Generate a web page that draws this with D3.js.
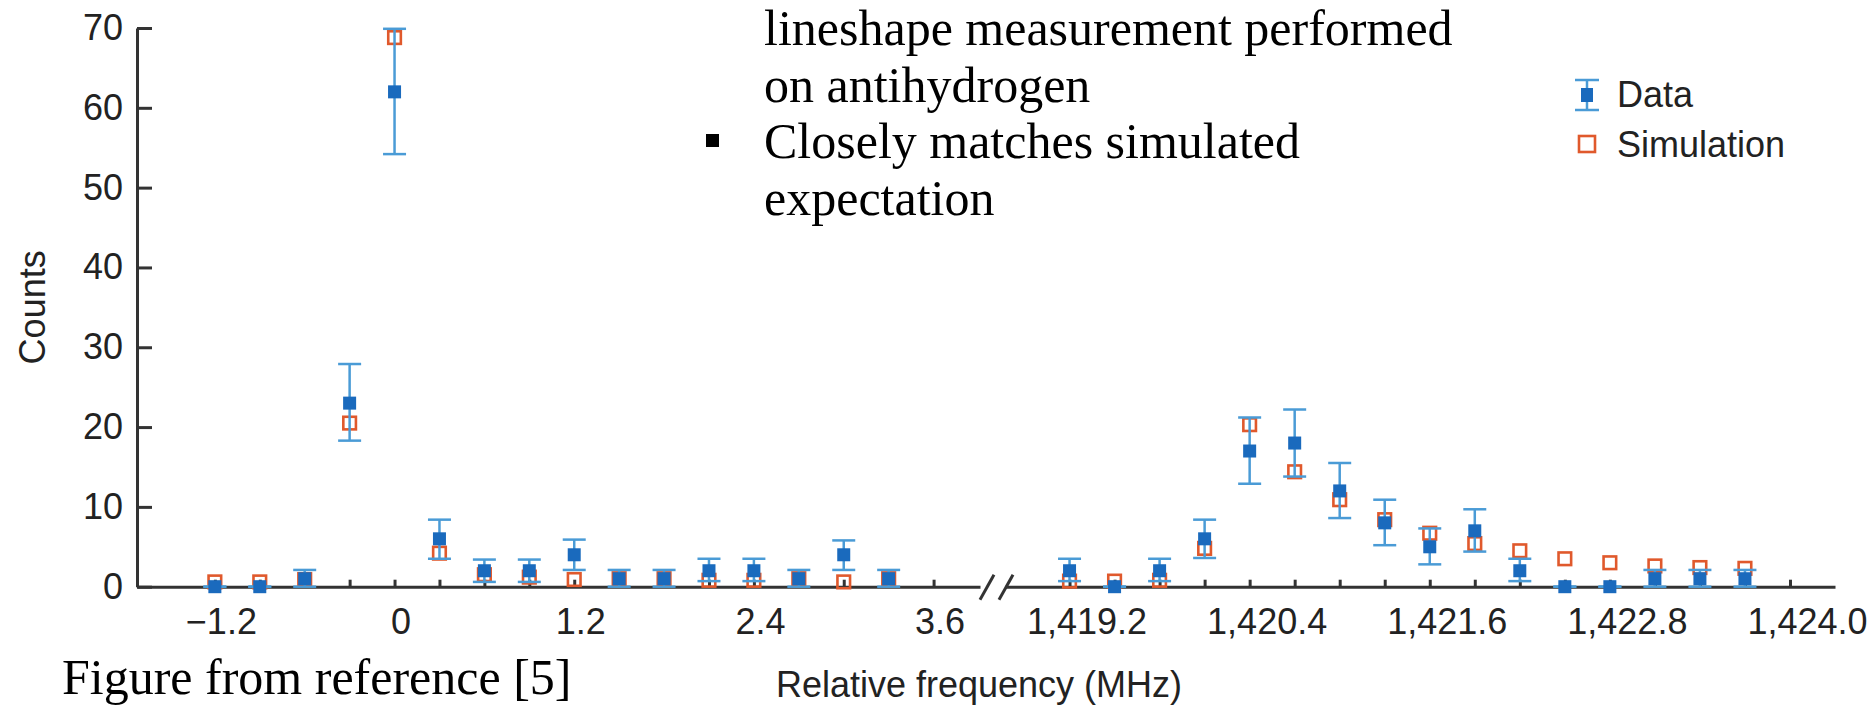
<!DOCTYPE html>
<html>
<head>
<meta charset="utf-8">
<script src="https://cdn.jsdelivr.net/npm/d3@7/dist/d3.min.js"></script>
<style>
    body { margin: 0; background: #fff; }
    svg { display: block; }
    .axis text { font-family: "Liberation Sans", Arial, sans-serif; font-size: 36px; fill: #222; }
    .axis path, .axis line { stroke: #333; }
    .slide { font-family: "Liberation Serif", "Times New Roman", serif; font-size: 50px; fill: #000; }
</style>
</head>
<body>
<div id="chart"></div>
<script>
// Low-frequency segment (MHz)
var leftFreq  = [-1.2, -0.9, -0.6, -0.3, 0, 0.3, 0.6, 0.9, 1.2, 1.5, 1.8, 2.1, 2.4, 2.7, 3.0, 3.3];
var leftData  = [0, 0, 1, 23, 62, 6, 2, 2, 4, 1, 1, 2, 2, 1, 4, 1];
var leftLow   = [0, 0, 0, 18.3, 54.2, 3.5, 0.6, 0.6, 2.1, 0, 0, 0.7, 0.7, 0, 2.1, 0];
var leftHigh  = [0, 0, 2.1, 27.9, 69.9, 8.4, 3.4, 3.4, 5.9, 2.1, 2.1, 3.5, 3.5, 2.1, 5.8, 2.1];
var leftSim   = [0.6, 0.6, 0.9, 20.5, 68.8, 4.2, 1.5, 1.2, 0.9, 1.0, 1.0, 0.8, 0.8, 1.0, 0.6, 1.0];

// High-frequency segment (MHz)
var rightFreq = [1419.2, 1419.5, 1419.8, 1420.1, 1420.4, 1420.7, 1421.0, 1421.3, 1421.6, 1421.9, 1422.2, 1422.5, 1422.8, 1423.1, 1423.4, 1423.7];
var rightData = [2, 0, 2, 6, 17, 18, 12, 8, 5, 7, 2, 0, 0, 1, 1, 1];
var rightLow  = [0.7, 0, 0.7, 3.6, 12.9, 13.8, 8.6, 5.2, 2.8, 4.4, 0.7, 0, 0, 0, 0, 0];
var rightHigh = [3.5, 0, 3.5, 8.4, 21.2, 22.2, 15.5, 10.9, 7.3, 9.7, 3.5, 0, 0, 2.1, 2.1, 2.1];
var rightSim  = [0.7, 0.7, 0.8, 4.8, 20.3, 14.4, 10.9, 8.4, 6.7, 5.4, 4.5, 3.5, 3.0, 2.6, 2.4, 2.3];

// Ticks and labels
var yTicks = [0, 10, 20, 30, 40, 50, 60, 70];
var leftTicks = [-1.2, -0.9, -0.6, -0.3, 0, 0.3, 0.6, 0.9, 1.2, 1.5, 1.8, 2.1, 2.4, 2.7, 3.0, 3.3, 3.6];
var leftLabels = [-1.2, 0, 1.2, 2.4, 3.6];
var rightTicks = [1419.2, 1419.5, 1419.8, 1420.1, 1420.4, 1420.7, 1421.0, 1421.3, 1421.6, 1421.9, 1422.2, 1422.5, 1422.8, 1423.1, 1423.4, 1423.7, 1424.0];
var rightLabels = [1419.2, 1420.4, 1421.6, 1422.8, 1424.0];

var bulletLines = ["lineshape measurement performed", "on antihydrogen", "Closely matches simulated", "expectation"];

var blue = "#1a6abd", barBlue = "#4a9bd6", orange = "#e0592c";

var width = 1876, height = 707;

var svg = d3.select("#chart").append("svg")
    .attr("width", width)
    .attr("height", height);

// Scales
var yScale = d3.scaleLinear().domain([0, 70]).range([586.7, 28]);
var xLeft = d3.scaleLinear().domain([-1.72, 3.91]).range([137, 980]);
var xRight = d3.scaleLinear().domain([1418.77, 1424.3]).range([1005, 1835]);

function fmt(d) { return d === 0 ? "0" : d3.format(",.1f")(d); }

// Axes
var yAxis = d3.axisLeft(yScale).tickValues(yTicks).tickSizeInner(-15).tickSizeOuter(0).tickPadding(14);
svg.append("g")
    .attr("class", "axis")
    .attr("transform", "translate(" + xLeft.range()[0] + ",0)")
    .call(yAxis)
    .call(function (g) { g.selectAll("path, line").attr("stroke-width", 3); });

function bottomAxis(scale, ticks, labels, dx) {
    var ax = d3.axisBottom(scale).tickValues(ticks)
        .tickSizeInner(-7).tickSizeOuter(0).tickPadding(22)
        .tickFormat(function (d) { return labels.indexOf(d) >= 0 ? fmt(d) : ""; });
    var g = svg.append("g")
        .attr("class", "axis")
        .attr("transform", "translate(0," + yScale(0) + ")")
        .call(ax);
    g.selectAll("path, line").attr("stroke-width", 3);
    g.selectAll("text").attr("dx", dx);
}
bottomAxis(xLeft, leftTicks, leftLabels, 6);
bottomAxis(xRight, rightTicks, rightLabels, 17);

// Axis break marks
var bx = xLeft.range()[1], by = yScale(0);
[0, 19].forEach(function (off) {
    svg.append("line")
        .attr("x1", bx + off).attr("y1", by + 13)
        .attr("x2", bx + off + 14).attr("y2", by - 12)
        .attr("stroke", "#333").attr("stroke-width", 3);
});

// Axis titles
svg.append("text")
    .attr("transform", "translate(45," + yScale(35) + ") rotate(-90)")
    .attr("text-anchor", "middle")
    .style("font-family", "'Liberation Sans', Arial, sans-serif")
    .style("font-size", "36px").style("fill", "#222")
    .text("Counts");

svg.append("text")
    .attr("x", 979).attr("y", 697)
    .attr("text-anchor", "middle")
    .style("font-family", "'Liberation Sans', Arial, sans-serif")
    .style("font-size", "36px").style("fill", "#222")
    .text("Relative frequency (MHz)");

// Points
function segment(scale, freq, data, low, high, sim) {
    var pts = freq.map(function (f, i) {
        return { f: f, v: data[i], lo: low[i], hi: high[i], s: sim[i] };
    });
    var g = svg.append("g");

    g.selectAll(".sim").data(pts).enter().append("rect")
        .attr("class", "sim")
        .attr("x", function (d) { return scale(d.f) - 6.3; })
        .attr("y", function (d) { return yScale(d.s) - 6.3; })
        .attr("width", 12.6).attr("height", 12.6)
        .attr("fill", "none").attr("stroke", orange).attr("stroke-width", 2.6);

    g.selectAll(".bar").data(pts).enter().append("line")
        .attr("class", "bar")
        .attr("x1", function (d) { return scale(d.f); })
        .attr("x2", function (d) { return scale(d.f); })
        .attr("y1", function (d) { return yScale(d.lo); })
        .attr("y2", function (d) { return yScale(d.hi); })
        .attr("stroke", barBlue).attr("stroke-width", 2.5);

    ["lo", "hi"].forEach(function (k) {
        g.selectAll(".cap-" + k).data(pts).enter().append("line")
            .attr("class", "cap-" + k)
            .attr("x1", function (d) { return scale(d.f) - 11.5; })
            .attr("x2", function (d) { return scale(d.f) + 11.5; })
            .attr("y1", function (d) { return yScale(d[k]); })
            .attr("y2", function (d) { return yScale(d[k]); })
            .attr("stroke", barBlue).attr("stroke-width", 2.5);
    });

    g.selectAll(".dat").data(pts).enter().append("rect")
        .attr("class", "dat")
        .attr("x", function (d) { return scale(d.f) - 6.5; })
        .attr("y", function (d) { return yScale(d.v) - 6.5; })
        .attr("width", 13).attr("height", 13)
        .attr("fill", blue);
}
segment(xLeft, leftFreq, leftData, leftLow, leftHigh, leftSim);
segment(xRight, rightFreq, rightData, rightLow, rightHigh, rightSim);

// Legend
var legend = svg.append("g").attr("transform", "translate(1587,0)");
legend.append("line").attr("x1", 0).attr("x2", 0).attr("y1", 80).attr("y2", 110)
    .attr("stroke", barBlue).attr("stroke-width", 2.5);
[80, 110].forEach(function (y) {
    legend.append("line").attr("x1", -12).attr("x2", 12).attr("y1", y).attr("y2", y)
        .attr("stroke", barBlue).attr("stroke-width", 2.5);
});
legend.append("rect").attr("x", -6).attr("y", 88).attr("width", 12).attr("height", 14).attr("fill", blue);
legend.append("rect").attr("x", -8).attr("y", 136).attr("width", 16).attr("height", 16)
    .attr("fill", "none").attr("stroke", orange).attr("stroke-width", 2.6);
legend.selectAll(".lt").data(["Data", "Simulation"]).enter().append("text")
    .attr("x", 30)
    .attr("y", function (d, i) { return 107 + i * 50; })
    .style("font-family", "'Liberation Sans', Arial, sans-serif")
    .style("font-size", "36px").style("fill", "#222")
    .text(function (d) { return d; });

// Slide text around the figure
svg.selectAll(".slide").data(bulletLines).enter().append("text")
    .attr("class", "slide")
    .attr("x", 764)
    .attr("y", function (d, i) { return 45 + i * 56.5; })
    .text(function (d) { return d; });
svg.append("rect").attr("x", 706).attr("y", 134).attr("width", 13).attr("height", 13).attr("fill", "#000");

svg.append("text")
    .attr("class", "slide")
    .attr("x", 62).attr("y", 694)
    .text("Figure from reference [5]");
</script>
</body>
</html>
